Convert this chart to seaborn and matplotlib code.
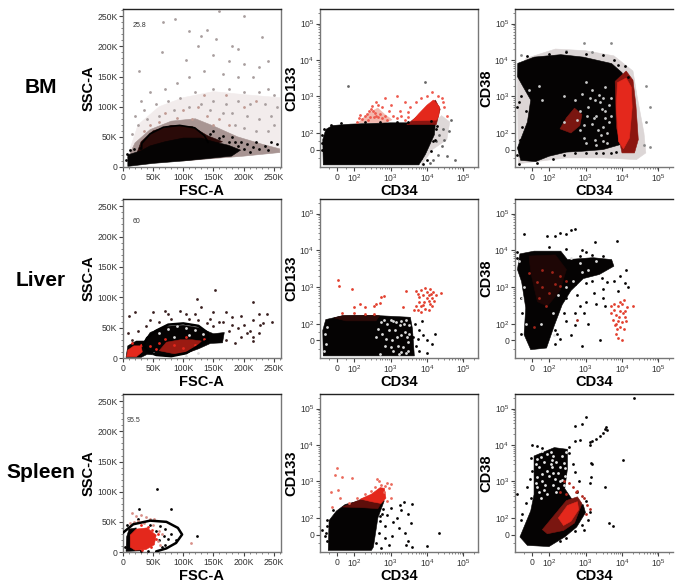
import matplotlib
matplotlib.use('Agg')
import matplotlib.pyplot as plt
import pandas as pd
import seaborn as sns

tissues = ['BM', 'Liver', 'Spleen']
gate_freqs = ['25.8', '60', '95.5']
fsc_ticks = [0, 50, 100, 150, 200, 250]
fsc_labels = ['0', '50K', '100K', '150K', '200K', '250K']
log_ticks = [0, 100, 1000, 10000, 100000]
log_labels = ['0', '$10^{2}$', '$10^{3}$', '$10^{4}$', '$10^{5}$']

PINK = '#f2ecec'
MID = '#a89593'
DARKRED = '#2a0a08'
RED = '#e4281c'
SOFTRED = '#8c1610'
BLACK = '#050303'

# BM, FSC / SSC (in thousands)
bm_fsc_gate = [(31, 30), (31, 39), (45, 55), (67, 66), (94, 69), (119, 65), (135, 52), (141, 41)]
bm_fsc_pale = [(10, 25), (25, 70), (60, 100), (100, 115), (150, 125), (200, 120), (260, 115), (260, 25), (200, 20), (100, 10)]
bm_fsc_mid = [(8, 15), (20, 40), (45, 62), (80, 76), (120, 80), (150, 68), (190, 50), (230, 38), (260, 30), (260, 24), (200, 18), (100, 10)]
bm_fsc_dark = [(22, 20), (30, 42), (50, 60), (80, 69), (115, 67), (140, 52), (165, 42), (120, 25), (60, 20)]
bm_fsc_core = [(8, 1), (8, 20), (30, 27), (45, 35), (70, 42), (100, 48), (130, 48), (150, 42), (175, 36), (195, 28), (180, 18), (150, 15), (100, 10), (50, 6)]
bm_fsc_black = [(190, 35), (200, 30), (210, 25), (205, 38), (215, 33), (225, 30), (235, 35), (195, 42), (220, 42), (185, 42), (175, 42), (160, 48), (145, 55), (5, 12), (12, 28), (18, 30), (6, 22), (28, 32), (150, 60), (165, 52), (180, 50), (245, 42), (255, 38), (240, 28)]
bm_fsc_grey = [(66, 240), (87, 245), (140, 228), (130, 218), (125, 200), (180, 200), (65, 190), (27, 160), (105, 178), (150, 185), (175, 175), (200, 170), (225, 165), (240, 175), (215, 150), (190, 150), (165, 155), (135, 160), (110, 150), (90, 140), (70, 130), (45, 125), (30, 110), (240, 130), (250, 120), (225, 125), (200, 125), (175, 130), (150, 130), (120, 125), (95, 115), (75, 110), (55, 105), (35, 95), (20, 85), (255, 100), (235, 105), (210, 105), (190, 110), (170, 105), (150, 110), (130, 105), (60, 85), (40, 80), (25, 70), (15, 55), (160, 258), (200, 250), (155, 212), (190, 195), (110, 225), (230, 215), (245, 85), (225, 80), (205, 85), (180, 90), (240, 60), (220, 60), (200, 65), (185, 70), (250, 70), (165, 90), (145, 95), (110, 100), (85, 95)]
bm_fsc_red = [(70, 90), (100, 95), (125, 100), (140, 85), (160, 80), (115, 80), (90, 82), (60, 75), (45, 70), (150, 70), (175, 70), (200, 100), (135, 120), (170, 120), (220, 110), (35, 60)]

# BM, CD34 / CD133
bm_133_pale = [(7000, -95), (14000, 0), (35000, 60), (42000, 200), (25000, 300), (15000, 180), (8000, 0)]
bm_133_core = [(-85, -92), (-88, 60), (-70, 125), (-30, 160), (80, 175), (1000, 190), (6000, 190), (17000, 190), (16000, 90), (12000, 30), (9000, -30), (6000, -92)]
bm_133_shade = [(2800, 170), (5500, 290), (10000, 520), (17000, 800), (23000, 450), (18000, 170)]
bm_133_red = [(4000, 215), (6000, 340), (10000, 580), (15000, 800), (22000, 520), (21000, 290), (18000, 225)]
bm_133_blush = [(130, 190), (250, 350), (450, 480), (700, 320), (1100, 230), (700, 190)]
bm_133_red_dots = [(120, 200), (140, 250), (170, 240), (200, 300), (230, 340), (260, 400), (300, 450), (340, 400), (380, 360), (400, 300), (450, 280), (350, 280), (280, 280), (240, 230), (500, 340), (600, 260), (700, 300), (800, 230), (900, 400), (1200, 300), (1500, 250), (2000, 300), (2500, 230), (3000, 280), (3500, 500), (5000, 700), (7000, 900), (10000, 1000), (14000, 1300), (20000, 1000), (25000, 900), (30000, 500), (35000, 300), (28000, 700), (400, 700), (700, 900), (1500, 1000), (2500, 700), (600, 500), (1000, 600), (320, 550), (450, 600), (150, 320), (1800, 400), (3000, 380)]
bm_133_edge = [(-95, 0), (-92, 40), (-90, 90), (-80, 130), (-40, 170), (20, 185), (200, 195), (500, 200), (1500, 205), (3000, 200), (13000, 210), (18000, 130), (15000, 50), (13000, -10), (10000, -60), (8000, -85), (7000, -50), (19000, 160), (17000, 60)]
bm_133_grey = [(15000, -60), (20000, -30), (25000, 20), (30000, 60), (35000, -40), (22000, 90), (28000, 130), (18000, 50), (12000, -80), (40000, 110), (45000, 220), (60000, -60), (65, 1900), (9000, 2500)]

# BM, CD34 / CD38
bm_38_pale = [(-90, 3000), (-40, 11000), (150, 20000), (1000, 18000), (6000, 13000), (20000, 5000), (26000, 1000), (40000, 100), (45000, -20), (25000, -60), (3000, -50), (300, -50), (-85, -85)]
bm_38_core = [(-88, 8100), (10, 12000), (210, 14000), (870, 12000), (5200, 8000), (10000, 4500), (14000, 2200), (10000, 1000), (7000, 300), (9000, 30), (3000, 0), (800, -10), (300, -15), (100, -40), (20, -72), (-70, -65), (-90, 10), (-30, 200), (-10, 800), (-60, 2000), (-90, 3500)]
bm_38_shade = [(6500, 2600), (13000, 5000), (20000, 2800), (24000, 600), (28000, 60), (22000, -20), (10000, -20), (7000, 150)]
bm_38_red = [(7500, 2400), (13000, 3200), (18000, 1800), (19000, 500), (16000, 70), (11000, 5), (8000, 50), (7000, 500)]
bm_38_blob = [(200, 130), (300, 260), (500, 480), (800, 320), (700, 160), (400, 100)]
bm_38_white = [(250, 1000), (500, 800), (800, 1200), (1500, 1500), (3000, 900), (700, 400), (1200, 500), (2000, 300), (3500, 400), (1500, 180), (3000, 150), (700, 120), (4500, 200), (5000, 900), (1800, 800), (1100, 300), (2500, 700), (4000, 100), (900, 70), (1800, 60), (3000, 50), (60, 800), (40, 2000), (-20, 1500), (3500, 1800), (1000, 2500), (250, 200), (2200, 120), (1300, 900), (2800, 450), (1700, 250), (3500, 250), (4500, 600), (2300, 1100), (600, 230), (900, 170), (2600, 90), (5000, 300), (1000, 40), (2000, 30), (4000, 40)]
bm_38_edge = [(-95, 500), (-80, 700), (-70, 1000), (-40, 400), (-60, 150), (-75, 60), (-95, -30), (-80, -85), (30, -80), (130, -55), (250, -30), (500, -22), (1000, -22), (2000, -20), (3000, -18), (5000, -20), (7000, -15), (12000, 7000), (6000, 10000), (3000, 14000), (1000, 15000), (300, 17000), (100, 15000), (-30, 13000), (8000, 7500), (15000, 3500)]
bm_38_grey = [(900, 30000), (5000, 30000), (300, 18000), (1500, 17000), (45000, 2000), (60000, 500), (45000, 200), (40000, 30), (60000, 15), (-70, 14000)]

# Liver, FSC / SSC
liver_fsc_gate = [(34, 22), (40, 33), (55, 45), (75, 55), (100, 57), (125, 53), (140, 42), (141, 30), (125, 20), (105, 8), (80, 3), (55, 5), (40, 12), (34, 22)]
liver_fsc_core = [(5, 1), (8, 20), (22, 28), (36, 28), (45, 42), (70, 52), (100, 54), (125, 50), (150, 40), (168, 42), (165, 25), (145, 24), (125, 15), (100, 6), (75, 3), (40, 6), (30, 1)]
liver_fsc_red = [(6, 2), (8, 13), (18, 20), (30, 20), (32, 10), (22, 2)]
liver_fsc_inner = [(60, 12), (72, 26), (95, 30), (115, 30), (130, 28), (115, 12), (85, 7)]
liver_fsc_grey = [(152, 112), (123, 98), (215, 92), (10, 70), (20, 75), (50, 75), (70, 78), (95, 78), (120, 72), (130, 84), (150, 76), (170, 76), (195, 70), (225, 72), (238, 73), (247, 60), (232, 58), (215, 62), (200, 55), (205, 42), (215, 35), (225, 42), (228, 55), (195, 35), (185, 25), (170, 30), (180, 55), (165, 60), (145, 65), (110, 65), (80, 65), (60, 60), (38, 52), (25, 45), (8, 42), (15, 30), (150, 52), (175, 45), (190, 50), (210, 45), (160, 60), (105, 72), (75, 72), (45, 62), (180, 68), (215, 28), (140, 58), (125, 62)]
liver_fsc_white = [(60, 42), (75, 47), (90, 52), (105, 50), (120, 46), (132, 40), (125, 8), (105, 4), (70, 3), (50, 8), (85, 35), (110, 38)]
liver_fsc_redd = [(45, 20), (55, 15), (60, 25), (70, 32), (85, 22), (100, 16), (120, 22), (105, 35), (30, 22), (15, 24), (135, 32)]

# Liver, CD34 / CD133
liver_133_core = [(-85, -92), (-88, 60), (-70, 130), (30, 165), (300, 170), (1000, 160), (3500, 150), (4000, 70), (4500, -92)]
liver_133_dark = [(-20, 145), (30, 165), (300, 170), (500, 165), (400, 120), (50, 120)]
liver_133_red = [(5, 1600), (10, 1050), (85, 900), (100, 290), (150, 340), (200, 290), (350, 300), (400, 350), (550, 520), (650, 560), (500, 360), (2700, 800), (2200, 290), (5000, 800), (5500, 650), (7000, 850), (9000, 950), (12000, 900), (15000, 750), (24000, 700), (18000, 600), (14000, 500), (11000, 600), (8000, 600), (6000, 400), (5000, 300), (5500, 230), (7000, 300), (8500, 400), (10000, 500), (12000, 350), (14000, 300), (9000, 250), (7000, 210), (11000, 230), (6000, 520), (10000, 750), (13000, 650), (8000, 320), (11000, 420), (4500, 240), (16000, 430), (30, 200), (100, 200), (200, 190), (350, 190)]
liver_133_black = [(4800, 100), (6000, 60), (8000, 30), (10000, 0), (14000, -20), (17000, 40), (5000, -30), (6000, -60), (10000, -75), (5500, 10), (7500, 120), (4200, 20)]
liver_133_white = [(-75, 40), (-70, -20), (-65, 80), (-80, -60), (600, 40), (700, -30), (900, 60), (1200, -60), (1500, 20), (1800, 90), (2200, -40), (2500, 50), (3000, -10), (3300, 90), (800, 100), (1100, 0), (1400, 110), (500, -80), (1700, -80), (2700, -75), (400, 20), (1000, 130), (2000, 120), (550, 110), (650, 130), (750, 10), (1000, -40), (1300, 60), (1600, -30), (2000, 30), (2400, 100), (2800, 20), (3200, 40), (2000, -70), (3000, -60), (1200, 120), (2600, 130), (450, 70)]

# Liver, CD34 / CD38
liver_38_core = [(-75, 8000), (10, 9500), (210, 9500), (320, 5600), (1600, 6300), (5200, 5600), (6000, 3700), (2400, 2200), (870, 1700), (400, 800), (230, 330), (140, 90), (85, -45), (-10, -55), (-50, 35), (-40, 270), (-65, 1400), (-90, 3000)]
liver_38_inner = [(-20, 7000), (150, 7500), (300, 3000), (200, 800), (90, 300), (30, 400), (-10, 2500)]
liver_38_grey = [(-50, 28000), (90, 25000), (150, 25000), (200, 30000), (400, 35000), (500, 37000), (300, 27000), (1800, 17000), (7500, 18000), (1000, 9000), (800, 10000), (-90, 9000), (13000, 3000), (9000, 2000), (6000, 1500), (4000, 1400), (3000, 900), (1700, 700), (3000, 500), (1000, 400), (700, 300), (500, 200), (900, 200), (1200, 100), (500, 90), (400, 30), (800, -30), (2500, 5), (250, 200), (300, 120), (15000, 1000), (12000, 1300), (2000, 350), (3500, 300), (8000, 800), (170, 40), (200, 10), (150, -20), (600, 600), (-95, 6000), (-70, 500), (-60, 200), (-70, 40), (150, 60), (300, 500), (500, 1200), (1000, 1300), (1500, 1500), (2800, 1800), (500, 2000), (3000, 7000), (1500, 7500), (700, 7000), (300, 11000), (100, 12000)]
liver_38_red = [(5000, 300), (6000, 350), (8000, 300), (10000, 350), (14000, 280), (20000, 300), (9000, 220), (10500, 200), (7000, 170), (5500, 130), (8000, 120), (10000, 110), (12000, 150), (6500, 90), (7500, 70), (9000, 80), (7000, 40), (8000, 15), (10000, 5), (5000, 200), (12000, 220), (13000, 120), (6000, 230), (9000, 400), (11000, 450), (8500, 150), (7000, 100), (11000, 70)]
liver_38_red2 = [(60, 3000), (120, 2500), (150, 1200), (60, 1000), (100, 700), (40, 500), (200, 2000), (300, 1500), (-20, 2400), (30, 1400), (80, 300), (600, 130), (10, 80), (200, 1100)]
liver_38_white = [(-60, 500), (-40, 100), (-50, 1000), (130, 200), (180, 600), (300, 1000), (450, 1500), (800, 2500), (1200, 3000), (400, 6000), (-80, 5000), (140, 30), (50, 100), (2000, 5000), (700, 4500)]

# Spleen, FSC / SSC
spleen_fsc_gate = [(0, 32), (17, 46), (45, 52), (72, 50), (91, 40), (98, 29), (88, 15), (72, 6), (55, 1)]
spleen_fsc_core = [(5, 1), (6, 25), (10, 38), (22, 40), (20, 10), (30, 2)]
spleen_fsc_red = [(12, 8), (12, 28), (22, 38), (40, 40), (55, 28), (52, 12), (38, 4), (20, 3)]
spleen_fsc_grey = [(56, 104), (27, 72), (80, 71), (122, 26), (62, 43), (70, 38), (80, 30), (68, 27), (60, 20), (75, 22), (88, 20), (70, 12), (65, 8), (25, 55), (45, 45), (55, 35), (7, 45), (4, 8), (30, 1), (42, 2)]
spleen_fsc_pink = [(15, 65), (22, 60), (30, 62), (38, 58), (45, 55), (52, 55), (25, 52), (35, 48), (50, 45), (60, 35), (65, 30), (112, 15), (58, 18), (62, 12), (18, 50), (12, 48)]
spleen_fsc_red_dots = [(30, 44), (42, 42), (48, 36), (55, 22), (58, 30), (47, 8), (32, 3)]

# Spleen, CD34 / CD133
spleen_133_core = [(-55, -95), (-50, 85), (-6, 155), (47, 235), (200, 320), (550, 540), (670, 290), (450, 100), (340, -75), (300, -95)]
spleen_133_shade = [(30, 200), (150, 320), (350, 450), (550, 620), (680, 360), (450, 180), (200, 190)]
spleen_133_red = [(150, 330), (300, 450), (520, 680), (680, 650), (750, 350), (550, 250), (300, 280)]
spleen_133_red_dots = [(-5, 2300), (-15, 1500), (30, 1300), (85, 1250), (5, 600), (-40, 500), (15, 350), (420, 1150), (480, 1000), (800, 900), (1000, 850), (700, 750), (900, 650), (650, 500), (550, 800), (300, 550), (200, 450), (120, 350), (70, 260), (-30, 200), (1000, 350), (800, 300), (380, 700)]
spleen_133_grey = [(1000, 190), (2000, 170), (3000, 130), (4000, 240), (3700, 70), (1500, 100), (800, 120), (700, 50), (1200, 75), (1700, 40), (2500, 10), (3000, -40), (4000, -75), (10000, -70), (22000, 10), (700, -20), (900, -60), (1100, -10), (2600, -60), (500, 80), (-90, 30), (-75, -10), (-70, 10), (600, 130), (2300, 280), (1800, 230), (-60, -40), (-60, 50), (-65, 90), (-25, 170), (400, -50), (480, 10), (550, -80), (500, 110), (620, 180)]

# Spleen, CD34 / CD38
spleen_38_lower = [(-75, -14), (-10, 157), (10, 440), (10, 5000), (140, 8500), (320, 7600), (320, 2200), (270, 640), (470, 280), (870, 230), (1000, 140), (570, 45), (270, -14), (100, -72), (-30, -65)]
spleen_38_blob = [(60, 30), (150, 130), (300, 300), (600, 380), (800, 250), (500, 70), (250, 25), (90, 5)]
spleen_38_red = [(180, 100), (320, 220), (600, 280), (650, 170), (400, 80), (250, 55)]
spleen_38_white = [(70, 600), (60, 1000), (90, 2000), (70, 3500), (150, 1200), (200, 2500), (270, 1400), (120, 4000), (110, 6500), (230, 5000), (130, 800), (180, 650), (90, 450), (110, 3000), (50, 350), (250, 800), (180, 1700), (85, 5500), (30, 700), (30, 1300), (40, 2500), (30, 4200), (60, 6800), (130, 1700), (230, 1100), (100, 1400), (160, 3400), (200, 1000), (280, 2300), (60, 1600), (75, 800), (120, 2500), (50, 4800), (250, 3300), (40, 500), (160, 500), (130, 5000), (20, 900), (20, 3000), (290, 6500)]
spleen_38_grey = [(-90, 450), (-70, 90), (-60, 130), (-40, 250), (-10, 350), (-30, 700), (-15, 1200), (-5, 2000), (-10, 4500), (-5, 10000), (30, 9500), (60, 8500), (350, 9000), (500, 13000), (700, 14000), (350, 6000), (450, 3000), (500, 1800), (650, 1000), (1300, 900), (1400, 1300), (1400, 3300), (1500, 3100), (3400, 700), (4500, 70), (5500, 50), (10500, 4000), (22000, 190000), (1000, 60000), (800, 37000), (500, 33000), (1300, 12000), (1300, 10000), (1500, 13000), (2000, 15000), (2500, 18000), (3000, 22000), (3500, 28000), (4000, 25000), (3700, 31000), (1000, 300), (1300, 150), (1200, 90), (800, 60), (900, 30), (500, 20), (300, -20), (200, -40), (600, 500)]
spleen_38_red_dots = [(250, 1000), (350, 900), (450, 700), (550, 500), (800, 400), (900, 350), (1100, 220), (1300, 180), (300, 450), (1000, 130), (600, 550), (200, 500)]

# one panel: filled clouds then single events, all from the lists above
panels = [
    [
        dict(fills=[(PINK, bm_fsc_pale), (MID, bm_fsc_mid), (DARKRED, bm_fsc_dark), (BLACK, bm_fsc_core)],
             dots=[('#a89e9e', bm_fsc_grey), ('#c09a92', bm_fsc_red), (BLACK, bm_fsc_black)], gate=bm_fsc_gate),
        dict(fills=[('#ded8d8', bm_133_pale), ('#f2b8ae', bm_133_blush), (BLACK, bm_133_core), ('#8a1410', bm_133_shade), (RED, bm_133_red)],
             dots=[('#ee5a4e', bm_133_red_dots), ('#666666', bm_133_grey), (BLACK, bm_133_edge)]),
        dict(fills=[('#dcd6d6', bm_38_pale), (BLACK, bm_38_core), (SOFTRED, bm_38_shade), (RED, bm_38_red), ('#7a1610', bm_38_blob)],
             dots=[('#c9c9c9', bm_38_white), ('#888888', bm_38_grey), (BLACK, bm_38_edge)]),
    ],
    [
        dict(fills=[(BLACK, liver_fsc_core), (RED, liver_fsc_red), ('#9a1a12', liver_fsc_inner)],
             dots=[('#3a2020', liver_fsc_grey), ('#dddddd', liver_fsc_white), (RED, liver_fsc_redd)], gate=liver_fsc_gate),
        dict(fills=[(BLACK, liver_133_core), (DARKRED, liver_133_dark)],
             dots=[('#e2402f', liver_133_red), (BLACK, liver_133_black), ('#dddddd', liver_133_white)]),
        dict(fills=[(BLACK, liver_38_core), ('#1e0605', liver_38_inner)],
             dots=[(BLACK, liver_38_grey), ('#e2402f', liver_38_red), ('#a0241a', liver_38_red2), ('#dddddd', liver_38_white)]),
    ],
    [
        dict(fills=[(BLACK, spleen_fsc_core), (RED, spleen_fsc_red)],
             dots=[(BLACK, spleen_fsc_grey), ('#d89088', spleen_fsc_pink), (RED, spleen_fsc_red_dots)], gate=spleen_fsc_gate),
        dict(fills=[(BLACK, spleen_133_core), ('#5e0e0a', spleen_133_shade), (RED, spleen_133_red)],
             dots=[('#ea6a5c', spleen_133_red_dots), (BLACK, spleen_133_grey)]),
        dict(fills=[(BLACK, spleen_38_lower), ('#7a1610', spleen_38_blob), (RED, spleen_38_red)],
             dots=[('#e8e8e8', spleen_38_white), (BLACK, spleen_38_grey), ('#b0281e', spleen_38_red_dots)]),
    ],
]

sns.set_style('ticks')
plt.rcParams['font.family'] = ['Liberation Sans', 'DejaVu Sans']
plt.rcParams['mathtext.default'] = 'regular'

W, H = 683, 588
col_left = [123, 320, 515]
row_top = [9, 199, 394]
row_bottom = [167, 358, 552]
label_y = [88, 280, 473]
ylabels = ['SSC-A', 'CD133', 'CD38']
xlabels = ['FSC-A', 'CD34', 'CD34']
minor_logs = [m * 10 ** d for d in (2, 3, 4) for m in range(2, 10)] + [-50, 50, 200000]

fig = plt.figure(figsize=(W / 100, H / 100), dpi=100)


def set_axis(axis, ticks, labels, log):
    if log:
        axis.set_ticks(minor_logs, minor=True)
    else:
        axis.set_ticks([v * 10 for v in range(0, 27)], minor=True)
    axis.set_ticks(ticks)
    axis.set_ticklabels(labels)


for r, row in enumerate(panels):
    for c, panel in enumerate(row):
        ax = fig.add_axes([col_left[c] / W, 1 - row_bottom[r] / H, 158 / W, (row_bottom[r] - row_top[r]) / H])
        for color, pts in panel['fills']:
            xs, ys = zip(*pts)
            ax.fill(xs, ys, color=color, linewidth=0.4, zorder=2)
        for color, pts in panel['dots']:
            df = pd.DataFrame(pts, columns=['x', 'y'])
            sns.scatterplot(data=df, x='x', y='y', color=color, s=4, linewidth=0, ax=ax, legend=False, zorder=3)
        if 'gate' in panel:
            xs, ys = zip(*panel['gate'])
            ax.plot(xs, ys, color='black', lw=1.2 if r == 0 else 1.8, zorder=4)
            ax.text(0.06 if r < 2 else 0.02, 0.885 if r == 0 else 0.85 if r == 1 else 0.82, gate_freqs[r],
                    transform=ax.transAxes, fontsize=5, color='#333333', zorder=5)
        if c == 0:
            ax.set_xlim(0, 262)
            ax.set_ylim(0, 262)
            set_axis(ax.xaxis, fsc_ticks, fsc_labels, False)
            set_axis(ax.yaxis, fsc_ticks, fsc_labels, False)
        else:
            for setter in (ax.set_xscale, ax.set_yscale):
                setter('symlog', linthresh=100, linscale=0.41)
            ax.set_xlim(-105, 250000)
            ax.set_ylim(-105, 250000)
            set_axis(ax.xaxis, log_ticks, log_labels, True)
            set_axis(ax.yaxis, log_ticks, log_labels, True)
        ax.tick_params(which='major', length=3, width=0.8, color='#444444', labelsize=6.2, labelcolor='#333333', pad=1)
        ax.tick_params(which='minor', length=1.5, width=0.5, color='#555555')
        ax.set_xlabel(xlabels[c], fontsize=10.5, fontweight='bold', color='black')
        ax.set_ylabel(ylabels[c], fontsize=10.5, fontweight='bold', color='black')
        ax.xaxis.set_label_coords(0.5, -0.105)
        ax.yaxis.set_label_coords(-0.175 if c == 0 else -0.135, 0.5)
        for side in ax.spines.values():
            side.set_color('#777777')
            side.set_linewidth(1.0)
        ax.spines['top'].set_color('#222222')
        ax.spines['top'].set_visible(True)
        ax.spines['right'].set_visible(c != 2)

for name, y in zip(tissues, label_y):
    fig.text(41 / W, 1 - y / H, name, fontsize=15, fontweight='bold', ha='center', va='center', color='black')

fig.savefig('out.png', dpi=100)
